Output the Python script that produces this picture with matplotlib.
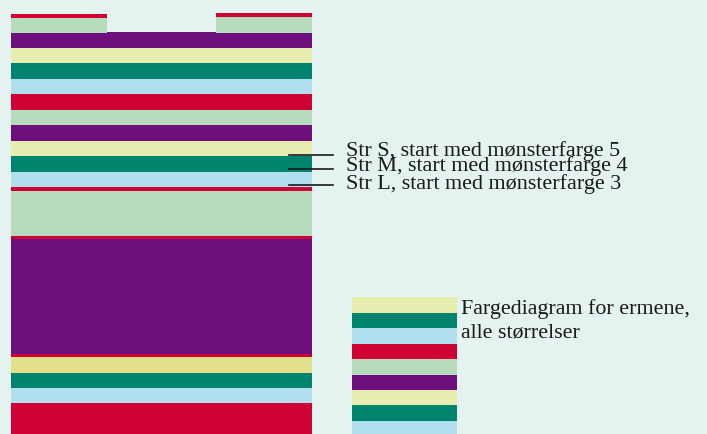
import numpy as np
import matplotlib.pyplot as plt

# colour chart for a striped knitted body (measured in picture px, top-down)
purple = "#6e0f7e"
yellow = "#e7edae"
yellow2 = "#e3e08c"
teal = "#00846f"
blue = "#b2dfee"
red = "#cf0036"
lgreen = "#b6dbbc"
bg = "#e4f3f0"

body_colors = [purple, yellow, teal, blue, red, lgreen, purple, yellow, teal, blue,
               red, lgreen, red, purple, red, yellow2, teal, blue, red]
body_heights = [16, 15, 16, 15, 16, 15, 16, 15, 16, 15,
                4, 45, 3, 115, 3, 16, 15, 15, 31]

# shoulder pieces above the body: (left, width, [colors], [heights])
shoulder_left = [(11, 96, [red, lgreen], [4, 15]), (216, 96, [red, lgreen], [4, 16])]
shoulder_top = [14, 13]

sleeve_colors = [yellow, teal, blue, red, lgreen, purple, yellow, teal, blue]
sleeve_heights = [16, 15, 16, 15, 16, 15, 15, 16, 13]

size_labels = ["Str S, start med mønsterfarge 5",
               "Str M, start med mønsterfarge 4",
               "Str L, start med mønsterfarge 3"]
size_lines = [155, 169, 185]
size_base = [156, 171, 189]

fig = plt.figure(figsize=(7.07, 4.34), dpi=100)
fig.patch.set_facecolor(bg)
ax = fig.add_axes([0, 0, 1, 1])
ax.set_facecolor(bg)
ax.set_xlim(0, 707)
ax.set_ylim(434, 0)
ax.axis("off")

# body
tops = 32 + np.concatenate([[0], np.cumsum(body_heights)[:-1]])
ax.bar(11, body_heights, width=301, bottom=tops, color=body_colors, align="edge", linewidth=0)

# shoulders
for (left, w, cols, hs), t in zip(shoulder_left, shoulder_top):
    st = t + np.concatenate([[0], np.cumsum(hs)[:-1]])
    ax.bar(left, hs, width=w, bottom=st, color=cols, align="edge", linewidth=0)

# sleeve strip
stops = 297 + np.concatenate([[0], np.cumsum(sleeve_heights)[:-1]])
ax.bar(352, sleeve_heights, width=105, bottom=stops, color=sleeve_colors, align="edge", linewidth=0)

font = dict(family="Liberation Serif", color="#1a1a1a")
for lab, ly, by in zip(size_labels, size_lines, size_base):
    ax.plot([289, 333], [ly, ly], color="#1a1a1a", lw=1.2)
    ax.text(346, by, lab, fontsize=15.9, va="baseline", ha="left", **font)

ax.text(461, 314, "Fargediagram for ermene,", fontsize=15.8, va="baseline", **font)
ax.text(461, 338, "alle størrelser", fontsize=15.8, va="baseline", **font)

fig.savefig("out.png", dpi=100, facecolor=bg)
